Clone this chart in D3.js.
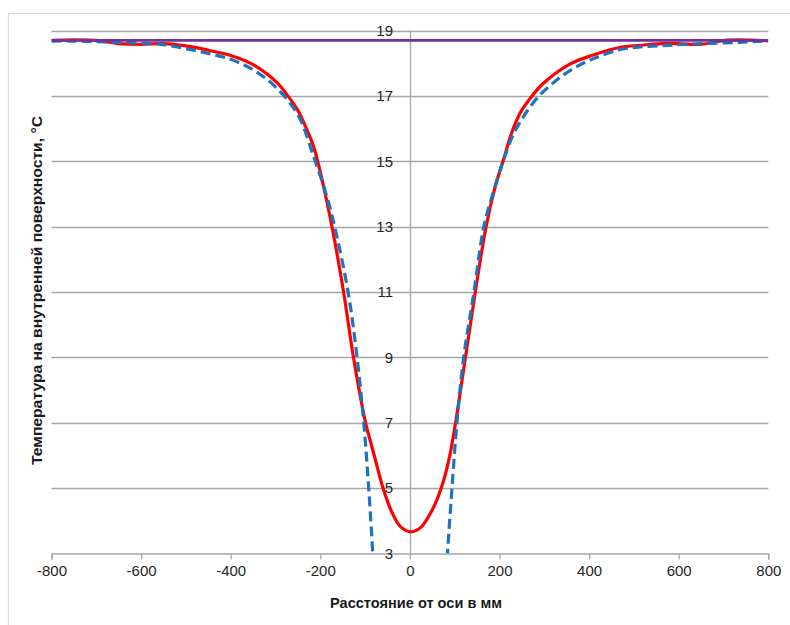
<!DOCTYPE html>
<html>
<head>
<meta charset="utf-8">
<script src="https://cdn.jsdelivr.net/npm/d3@7"></script>
<style>
  html, body { margin: 0; padding: 0; background: #fff; }
  svg { display: block; }
  text { font-family: "Liberation Sans", Arial, sans-serif; }
</style>
</head>
<body>
<svg id="chart" width="790" height="625"></svg>
<script>
// ---- data ----
const xTicks = [-800, -600, -400, -200, 0, 200, 400, 600, 800];
const yTicks = [3, 5, 7, 9, 11, 13, 15, 17, 19];

const redX = [-800, -750, -700, -650, -600, -550, -500, -450, -400, -350, -296, -274, -251, -233, -215, -196, -174, -148, -126, -99, -87, -77, -60, -40, -20, 3, 25, 50, 70, 87, 102, 124, 146, 170, 190, 210, 228, 247, 270, 295, 355, 411, 470, 515, 575, 649, 709, 800];
const redY = [18.70, 18.72, 18.70, 18.60, 18.58, 18.60, 18.53, 18.40, 18.24, 17.96, 17.40, 17.03, 16.58, 16.06, 15.45, 14.43, 13.0, 11.0, 9.0, 7.0, 6.37, 5.86, 5.0, 4.25, 3.80, 3.66, 3.80, 4.33, 5.0, 5.86, 7.0, 9.0, 11.0, 13.0, 14.2, 15.1, 15.9, 16.5, 16.95, 17.35, 17.96, 18.26, 18.49, 18.55, 18.61, 18.58, 18.71, 18.69];

const blueX = [-800, -750, -700, -650, -600, -550, -500, -450, -400, -350, -300, -250, -215, -185, -168, -138, -118, -103, -92, -83, -76, 0, 77, 84, 94, 105, 120, 143, 165, 185, 208, 230, 255, 285, 320, 360, 411, 470, 515, 575, 649, 735, 800];
const blueY = [18.68, 18.68, 18.66, 18.64, 18.62, 18.57, 18.45, 18.30, 18.12, 17.80, 17.28, 16.42, 15.15, 13.9, 13.0, 11.0, 9.0, 7.0, 5.0, 3.0, 1.0, null, 1.0, 3.0, 5.0, 7.0, 9.0, 11.0, 13.0, 14.0, 15.0, 15.8, 16.4, 16.95, 17.4, 17.8, 18.15, 18.42, 18.50, 18.55, 18.60, 18.64, 18.69];

const purpleX = [-800, 800];
const purpleY = [18.7, 18.7];

const xTitle = "Расстояние от оси в мм";
const yTitle = "Температура на внутренней поверхности, °С";

// ---- layout ----
const svg = d3.select("#chart");
const pL = 51.5, pR = 768.3, pT = 30.6, pB = 553.3;

const x = d3.scaleLinear().domain([-800, 800]).range([pL, pR]);
const y = d3.scaleLinear().domain([3, 19]).range([pB, pT]);

// outer chart border (clipped by the window at right/bottom)
svg.append("rect")
  .attr("x", 8.5).attr("y", 13.5).attr("width", 800).attr("height", 700)
  .attr("fill", "none").attr("stroke", "#d9d9d9").attr("stroke-width", 1.2);

// gridlines
svg.append("g").selectAll("line")
  .data(yTicks.filter(d => d !== 3))
  .join("line")
  .attr("x1", pL).attr("x2", pR)
  .attr("y1", d => Math.round(y(d)) + 0.5).attr("y2", d => Math.round(y(d)) + 0.5)
  .attr("stroke", "#a6a6a6").attr("stroke-width", 1.3);

// vertical axis at x = 0
svg.append("line")
  .attr("x1", Math.round(x(0)) + 0.5).attr("x2", Math.round(x(0)) + 0.5)
  .attr("y1", y(19)).attr("y2", y(3))
  .attr("stroke", "#a6a6a6").attr("stroke-width", 1.3);

// x axis
const xAxis = svg.append("g")
  .attr("transform", `translate(0,${Math.round(pB) + 0.5})`)
  .call(d3.axisBottom(x).tickValues(xTicks).tickSize(6).tickPadding(6).tickFormat(d3.format("d")));
xAxis.select(".domain").attr("stroke", "#a6a6a6").attr("stroke-width", 1.3);
xAxis.selectAll(".tick line").attr("stroke", "#a6a6a6").attr("stroke-width", 1.3);
xAxis.selectAll(".tick text")
  .attr("font-size", 15).attr("fill", "#262626")
  .attr("font-family", "Liberation Sans, Arial, sans-serif")
  .text(d => d < 0 ? "-" + Math.abs(d) : d);

// y tick labels (next to the vertical axis)
svg.append("g").selectAll("text")
  .data(yTicks)
  .join("text")
  .attr("x", 393).attr("y", d => y(d))
  .attr("dy", "0.36em")
  .attr("text-anchor", "end")
  .attr("font-size", 15).attr("fill", "#262626")
  .text(d => d);

// clip to plot area
svg.append("clipPath").attr("id", "plotclip")
  .append("rect").attr("x", pL).attr("y", 0).attr("width", pR - pL).attr("height", pB);

const line = d3.line()
  .defined(d => d[1] !== null)
  .x(d => x(d[0])).y(d => y(d[1]))
  .curve(d3.curveCatmullRom.alpha(0.5));

const series = svg.append("g").attr("clip-path", "url(#plotclip)");

series.append("path")
  .datum(redX.map((v, i) => [v, redY[i]]))
  .attr("d", line)
  .attr("fill", "none").attr("stroke", "#ff0000").attr("stroke-width", 3.2)
  .attr("stroke-linejoin", "round");

series.append("path")
  .datum(blueX.map((v, i) => [v, blueY[i]]))
  .attr("d", line)
  .attr("fill", "none").attr("stroke", "#1f72bd").attr("stroke-width", 3.2)
  .attr("stroke-dasharray", "10,5");

series.append("path")
  .datum(purpleX.map((v, i) => [v, purpleY[i]]))
  .attr("d", line)
  .attr("fill", "none").attr("stroke", "#7030a0").attr("stroke-width", 2.8);

// axis titles
svg.append("text")
  .attr("x", 416).attr("y", 608)
  .attr("text-anchor", "middle")
  .attr("font-size", 14).attr("font-weight", "bold").attr("fill", "#1a1a1a")
  .attr("textLength", 172).attr("lengthAdjust", "spacingAndGlyphs")
  .text(xTitle);

svg.append("text")
  .attr("transform", "translate(42,290.5) rotate(-90)")
  .attr("text-anchor", "middle")
  .attr("font-size", 14).attr("font-weight", "bold").attr("fill", "#1a1a1a")
  .attr("textLength", 349).attr("lengthAdjust", "spacingAndGlyphs")
  .text(yTitle);
</script>
</body>
</html>
